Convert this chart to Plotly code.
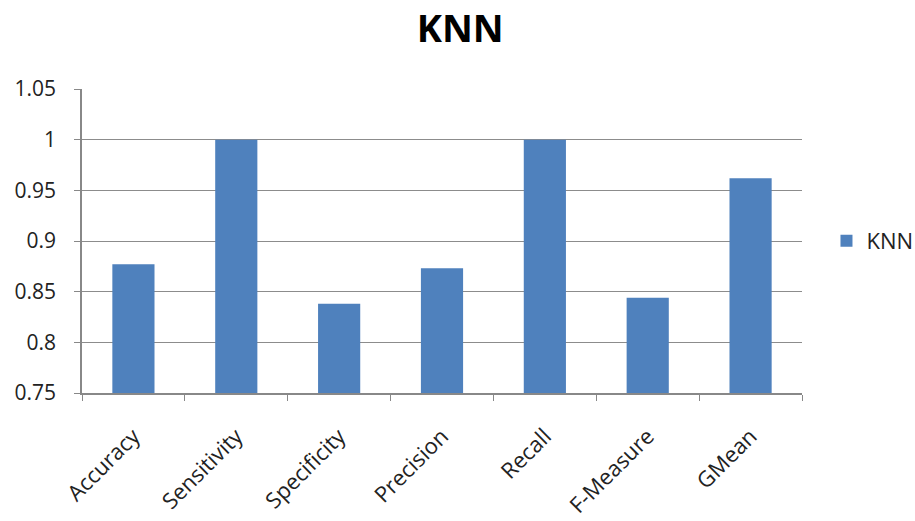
import plotly.graph_objects as go

categories = ["Accuracy", "Sensitivity", "Specificity", "Precision", "Recall", "F-Measure", "GMean"]
knn_values = [0.877, 1.0, 0.838, 0.873, 1.0, 0.844, 0.962]
y_ticks = [0.75, 0.8, 0.85, 0.9, 0.95, 1, 1.05]
y_tick_labels = ["0.75", "0.8", "0.85", "0.9", "0.95", "1", "1.05"]

fig = go.Figure()
fig.add_trace(go.Bar(
    x=categories, y=knn_values, name="KNN",
    marker=dict(color="#4F81BD", line=dict(color="#4F81BD", width=0)),
    showlegend=True,
))

font_family = "Open Sans, Liberation Sans, sans-serif"
fig.update_layout(
    width=915, height=521,
    margin=dict(l=82, r=113, t=89, b=128, autoexpand=False),
    paper_bgcolor="white", plot_bgcolor="white",
    title=dict(text="<b>KNN</b>", x=0.503, xanchor="center", y=0.945, yanchor="middle",
               font=dict(family=font_family, size=38, color="black")),
    bargap=0.59,
    showlegend=True,
    legend=dict(x=1.034, y=0.5, xanchor="left", yanchor="middle",
                font=dict(family=font_family, size=22, color="#222"),
                itemwidth=30),
    font=dict(family=font_family, color="#222"),
)
fig.update_xaxes(
    tickangle=-45, tickson="boundaries", ticks="outside", ticklen=6,
    tickcolor="#888", showline=True, linecolor="#888", linewidth=1.5,
    tickfont=dict(family=font_family, size=22, color="#222"),
    ticklabelstandoff=20,
    showgrid=False,
)
fig.update_yaxes(
    range=[0.75, 1.05], tickvals=y_ticks, ticktext=y_tick_labels,
    ticks="outside", ticklen=6, tickcolor="#888",
    showline=True, linecolor="#888", linewidth=1.5,
    showgrid=True, gridcolor="#8c8c8c", gridwidth=1.2,
    tickfont=dict(family=font_family, size=21, color="#222"),
    ticklabelstandoff=14, zeroline=False,
)

fig.write_html("out.html")
